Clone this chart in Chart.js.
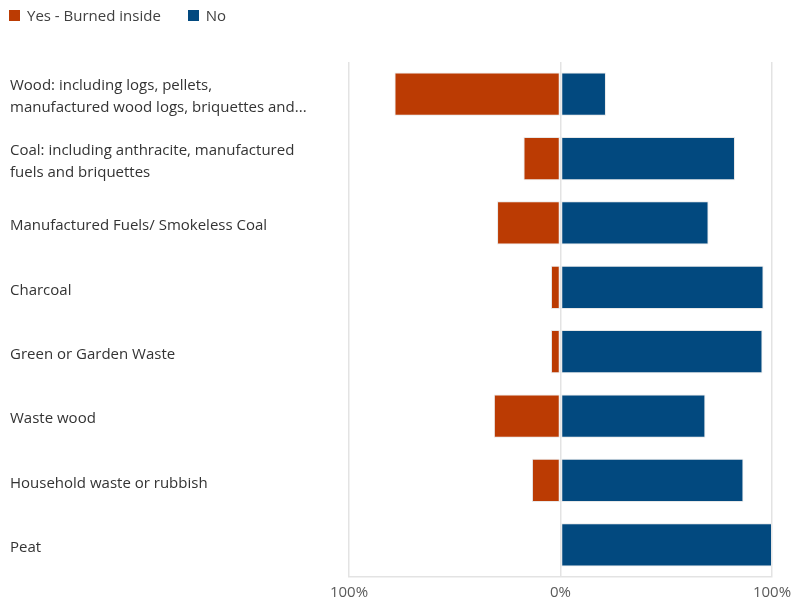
<!DOCTYPE html>
<html>
<head>
<meta charset="utf-8">
<script src="https://cdn.jsdelivr.net/npm/chart.js@4.4.3/dist/chart.umd.min.js"></script>
<style>
    html, body { margin: 0; padding: 0; background: #fff; }
    #wrap { position: relative; width: 792px; height: 601px; }
    #wrap canvas { display: block; }
    #legend {
        position: absolute; left: 9px; top: 5px;
        font-family: 'Open Sans', sans-serif; font-size: 15px; color: #404040;
        display: flex; align-items: center; white-space: nowrap;
    }
    #legend span.item { display: inline-flex; align-items: center; margin-right: 27px; }
    #legend span.box { width: 11px; height: 11px; display: inline-block; margin-right: 7px; }
</style>
</head>
<body>
<div id="wrap">
    <canvas id="chart" width="792" height="601"></canvas>
    <div id="legend"></div>
</div>
<script>
const categories = [
    ['Wood: including logs, pellets,', 'manufactured wood logs, briquettes and...'],
    ['Coal: including anthracite, manufactured', 'fuels and briquettes'],
    'Manufactured Fuels/ Smokeless Coal',
    'Charcoal',
    'Green or Garden Waste',
    'Waste wood',
    'Household waste or rubbish',
    'Peat'
];
const seriesNames = ['Yes - Burned inside', 'No'];
// "Yes" is plotted to the left of zero
const yesValues = [-78.5, -17.5, -30, -4.5, -4.5, -31.5, -13.5, 0];
const noValues = [21.5, 82.5, 70, 96, 95.5, 68.5, 86.5, 100];
const xTicks = [-100, 0, 100];
const colors = ['#bb3b03', '#02497f'];

// legend
const legendEl = document.getElementById('legend');
seriesNames.forEach((name, i) => {
    const item = document.createElement('span');
    item.className = 'item';
    const box = document.createElement('span');
    box.className = 'box';
    box.style.background = colors[i];
    item.appendChild(box);
    item.appendChild(document.createTextNode(name));
    legendEl.appendChild(item);
});

const fontFamily = "'Open Sans', sans-serif";

new Chart(document.getElementById('chart'), {
    type: 'bar',
    data: {
        labels: categories,
        datasets: [
            {
                label: seriesNames[0],
                data: yesValues,
                backgroundColor: colors[0],
                borderColor: 'rgba(230,230,230,0.9)',
                borderWidth: 1,
                borderSkipped: false
            },
            {
                label: seriesNames[1],
                data: noValues,
                backgroundColor: colors[1],
                borderColor: 'rgba(230,230,230,0.9)',
                borderWidth: 1,
                borderSkipped: false
            }
        ]
    },
    options: {
        indexAxis: 'y',
        responsive: false,
        animation: false,
        datasets: { bar: { categoryPercentage: 1, barPercentage: 0.67 } },
        layout: { padding: { top: 62, left: 10, right: 0, bottom: 0 } },
        plugins: {
            legend: { display: false },
            tooltip: { enabled: false }
        },
        scales: {
            x: {
                stacked: true,
                min: -100,
                max: 100,
                afterBuildTicks: scale => { scale.ticks = xTicks.map(v => ({ value: v })); },
                afterFit: scale => {
                    scale.height = 24;
                    scale.paddingLeft = 0;
                    scale.paddingRight = 20;
                },
                grid: { color: '#e3e3e3', lineWidth: 1.5, drawTicks: false },
                border: { color: '#e3e3e3', width: 1.5 },
                ticks: {
                    padding: 7,
                    color: '#5a5a5a',
                    font: { family: fontFamily, size: 15 },
                    callback: v => Math.abs(v) + '%'
                }
            },
            y: {
                stacked: true,
                afterFit: scale => {
                    scale.width = 339;
                    scale.paddingTop = 0;
                    scale.paddingBottom = 0;
                },
                grid: { display: false },
                border: { display: false },
                ticks: {
                    crossAlign: 'far',
                    labelOffset: 3,
                    color: '#333333',
                    font: { family: fontFamily, size: 15, lineHeight: 1.47 }
                }
            }
        }
    }
});
</script>
</body>
</html>
